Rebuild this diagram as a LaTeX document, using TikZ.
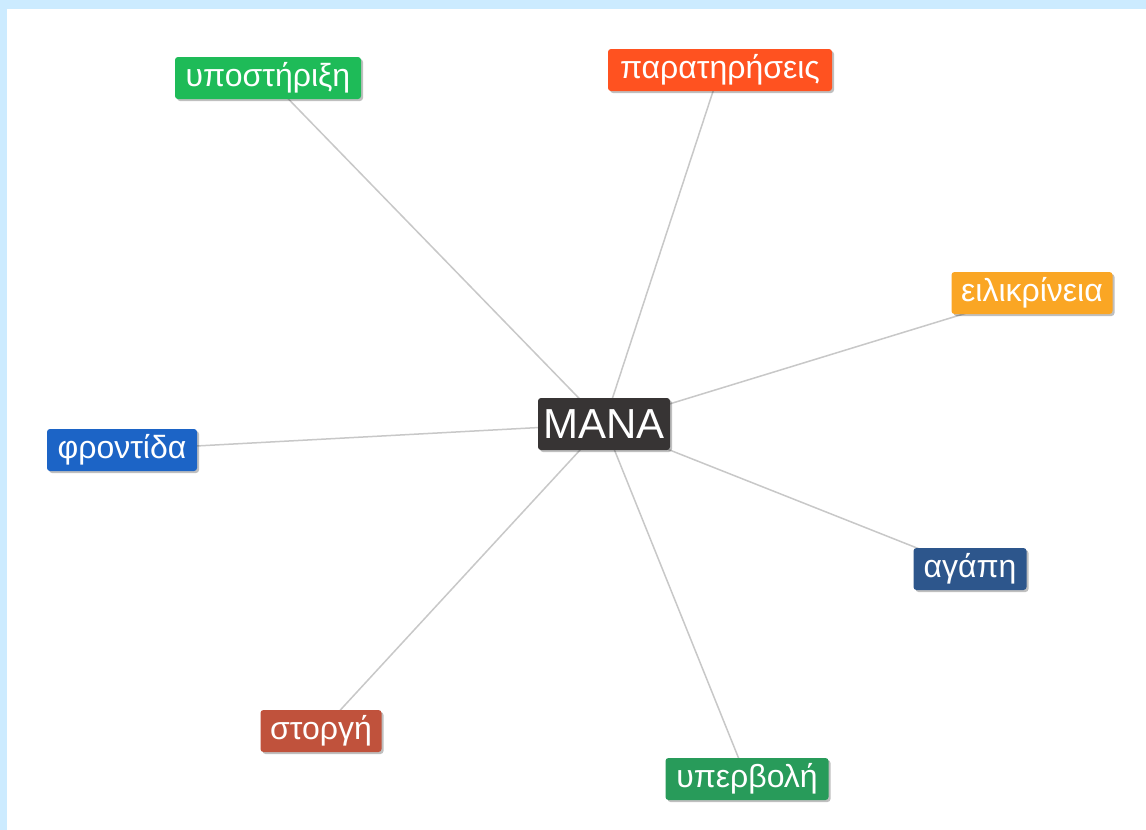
\documentclass[tikz,border=0pt]{standalone}
\usepackage{fontspec}
\setmainfont{Liberation Sans}
\usetikzlibrary{shadows,backgrounds}
\definecolor{bgblue}{RGB}{204,235,255}
\definecolor{cSup}{RGB}{30,187,88}
\definecolor{cPar}{RGB}{255,82,32}
\definecolor{cEil}{RGB}{250,166,36}
\definecolor{cFro}{RGB}{28,100,198}
\definecolor{cAga}{RGB}{45,86,140}
\definecolor{cSto}{RGB}{192,82,60}
\definecolor{cYpe}{RGB}{40,155,90}
\definecolor{cMana}{RGB}{55,52,52}
\definecolor{edgegray}{RGB}{200,200,200}
\tikzset{
  lbl/.style={rounded corners=3pt, text=white, inner sep=0pt, minimum height=42pt,
    font=\fontsize{32}{32}\selectfont,
    drop shadow={shadow xshift=2pt, shadow yshift=-2pt, opacity=0.25, fill=black}},
  edge/.style={draw=edgegray, line width=1.5pt}
}
\begin{document}
\begin{tikzpicture}[x=1pt,y=-1pt]
\useasboundingbox (0,0) rectangle (1146,830);
\node[lbl, fill=cMana, minimum width=132pt, minimum height=52pt, font=\fontsize{42}{42}\selectfont] (mana) at (604,424) {MANA};
\node[lbl, fill=cSup, minimum width=186pt] (sup) at (268,78) {υποστήριξη};
\node[lbl, fill=cPar, minimum width=224pt] (par) at (720,70) {παρατηρήσεις};
\node[lbl, fill=cEil, minimum width=161pt] (eil) at (1032,293) {ειλικρίνεια};
\node[lbl, fill=cFro, minimum width=150pt] (fro) at (122,450) {φροντίδα};
\node[lbl, fill=cAga, minimum width=113pt] (aga) at (970,569) {αγάπη};
\node[lbl, fill=cSto, minimum width=121pt] (sto) at (321,731) {στοργή};
\node[lbl, fill=cYpe, minimum width=163pt] (ype) at (747,779) {υπερβολή};
\begin{scope}[on background layer]
\fill[bgblue] (0,0) rectangle (1146,830);
\fill[white] (7,9) rectangle (1146,830);
\foreach \n in {sup,par,eil,fro,aga,sto,ype} \draw[edge] (mana.center) -- (\n.center);
\end{scope}
\end{tikzpicture}
\end{document}
